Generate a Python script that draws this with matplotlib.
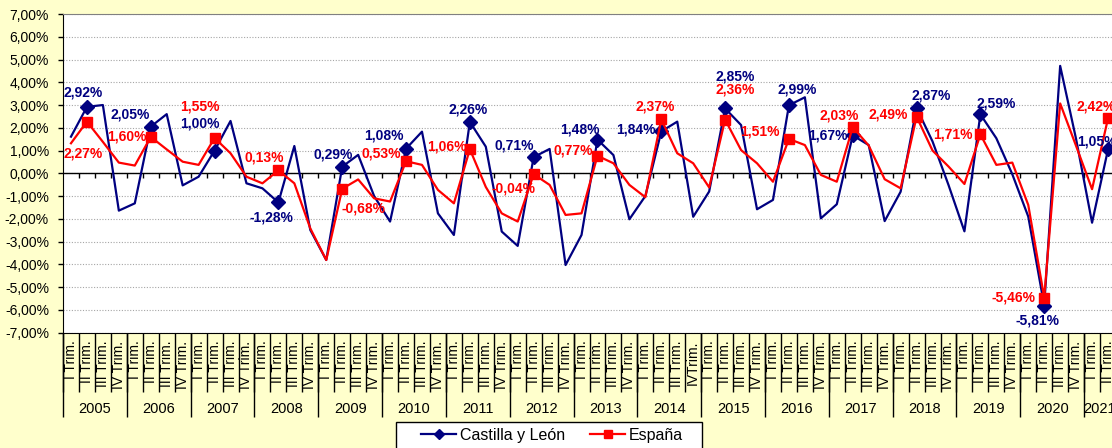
import numpy as np
import matplotlib
matplotlib.use("Agg")
import matplotlib.pyplot as plt
from matplotlib.lines import Line2D
from matplotlib.patches import Rectangle
from matplotlib.ticker import FuncFormatter

plt.rcParams['font.family'] = ['Liberation Sans', 'DejaVu Sans']

# quarterly variation (%), 2005 Q1 .. 2021 Q2
years = [str(y) for y in range(2005, 2022)]
quarter_names = ["I Trim.", "II Trim.", "III Trim.", "IV Trim."]
quarter_labels = quarter_names * 16 + quarter_names[:2]
quarter_labels[39] = "IVTrim."  # as printed in the source

castilla = [
    1.61, 2.92, 3.00, -1.64, -1.32, 2.05, 2.60, -0.53, -0.15, 1.00, 2.30, -0.44,
    -0.66, -1.28, 1.20, -2.49, -3.81, 0.29, 0.81, -1.00, -2.12, 1.08, 1.83, -1.76,
    -2.71, 2.26, 1.17, -2.56, -3.19, 0.71, 1.07, -4.03, -2.71, 1.48, 0.80, -2.02,
    -1.00, 1.84, 2.27, -1.91, -0.80, 2.85, 2.12, -1.58, -1.17, 2.99, 3.34, -1.98,
    -1.36, 1.67, 1.24, -2.10, -0.81, 2.87, 1.40, -0.51, -2.55, 2.59, 1.54, -0.04,
    -1.90, -5.81, 4.72, 1.50, -2.17, 1.05,
]
espana = [
    1.32, 2.27, 1.38, 0.47, 0.34, 1.60, 1.05, 0.51, 0.37, 1.55, 0.88, -0.15,
    -0.44, 0.13, -0.44, -2.42, -3.81, -0.68, -0.27, -1.10, -1.24, 0.53, 0.37, -0.73,
    -1.32, 1.06, -0.60, -1.76, -2.12, -0.04, -0.51, -1.83, -1.76, 0.77, 0.44, -0.51,
    -1.05, 2.37, 0.88, 0.44, -0.62, 2.36, 1.02, 0.44, -0.37, 1.51, 1.24, -0.07,
    -0.37, 2.03, 1.22, -0.26, -0.66, 2.49, 1.00, 0.30, -0.47, 1.71, 0.37, 0.47,
    -1.39, -5.46, 3.07, 1.20, -0.70, 2.42,
]

# label placement (pixels from the marker, y downwards) for the II Trim. points
castilla_offsets = [(-4, -14), (-21, -12), (-15, -27), (-7, 15), (-9, -12), (-22, -13),
                    (-2, -12), (-19, -12), (-18, -10), (-25, -2), (10, -32), (8, -16),
                    (-25, 0), (15, -12), (16, -11), (-7, 15), (-11, -8)]
espana_offsets = [(-4, 32), (-24, 0), (-15, -32), (-14, -13), (21, 20), (-25, -8),
                  (-23, -3), (-20, 14), (-24, -5), (-6, -13), (10, -30), (-29, -7),
                  (-14, -12), (-28, -2), (-28, 0), (-31, 0), (-12, -12)]

BLUE = '#000080'
RED = '#FF0000'
W, H = 1112, 448


def pct(v):
    return f"{v:.2f}%".replace('.', ',')


fig = plt.figure(figsize=(W / 100, H / 100), dpi=100, facecolor='#FFFFCC')
ax = fig.add_axes([63 / W, (H - 332.6) / H, (1116 - 63) / W, 318.6 / H])
ax.set_facecolor('white')

x = np.arange(len(castilla))
ax.plot(x, castilla, color=BLUE, lw=1.6, marker='D', ms=7,
        markevery=slice(1, None, 4), zorder=4)
ax.plot(x, espana, color=RED, lw=1.6, marker='s', ms=7,
        markevery=slice(1, None, 4), zorder=5)

for n, i in enumerate(range(1, len(x), 4)):
    dx, dy = castilla_offsets[n]
    ax.annotate(pct(castilla[i]), (i, castilla[i]), xytext=(dx, -dy),
                textcoords='offset pixels', ha='center', va='center',
                color=BLUE, fontsize=10, fontweight='bold', zorder=6)
    dx, dy = espana_offsets[n]
    ax.annotate(pct(espana[i]), (i, espana[i]), xytext=(dx, -dy),
                textcoords='offset pixels', ha='center', va='center',
                color=RED, fontsize=10, fontweight='bold', zorder=6)

ax.set_xlim(-0.5, len(x) - 0.5)
ax.set_ylim(-7, 7)
ax.set_yticks(np.arange(-7, 8, 1))
ax.yaxis.set_major_formatter(FuncFormatter(lambda v, p: pct(round(v, 2) + 0.0)))
ax.tick_params(axis='y', direction='out', length=3.6, width=1, pad=6.5,
               labelsize=10, colors='black')
ax.yaxis.grid(True, ls=(0, (1, 1.5)), color='#A6A6A6', lw=0.8)
ax.set_axisbelow(True)

ax.set_xticks(x, quarter_labels, rotation=90, fontsize=10)
ax.tick_params(axis='x', length=0, pad=5.8)

ax.spines['left'].set_color('black')
ax.spines['bottom'].set_color('black')
ax.spines['top'].set_color('#808080')
ax.spines['right'].set_visible(False)

# zero line with its small ticks
ax.axhline(0, color='black', lw=1, zorder=3)
ax.vlines(np.arange(1, len(x)) - 0.5, -0.22, 0, colors='black', lw=1, zorder=3)

# separators under the category axis
trans = ax.get_xaxis_transform()
bounds = np.arange(len(x) + 1) - 0.5
ax.vlines(bounds, -0.1864, 0, transform=trans, colors='black', lw=1, clip_on=False)
ax.vlines(bounds[::4], -0.265, 0, transform=trans, colors='black', lw=1, clip_on=False)
for k, year in enumerate(years):
    first = 4 * k
    last = min(4 * k + 3, len(x) - 1)
    ax.text((first + last) / 2, -0.24, year, transform=trans, ha='center',
            va='center', fontsize=10.5)

# legend box
fig.add_artist(Rectangle((396 / W, (H - 452) / H), 306 / W, 30.3 / H,
                         transform=fig.transFigure, facecolor='white',
                         edgecolor='black', lw=1))
handles = [Line2D([], [], color=BLUE, lw=1.6, marker='D', ms=5),
           Line2D([], [], color=RED, lw=1.6, marker='s', ms=6)]
fig.legend(handles, ['Castilla y León', 'España'], loc='center',
           bbox_to_anchor=(552 / W, 1 - 435 / H), ncol=2, frameon=False,
           fontsize=11.5, handlelength=2.2, handletextpad=0.2,
           columnspacing=1.6, numpoints=1)

fig.savefig('out.png', dpi=100, facecolor=fig.get_facecolor())
